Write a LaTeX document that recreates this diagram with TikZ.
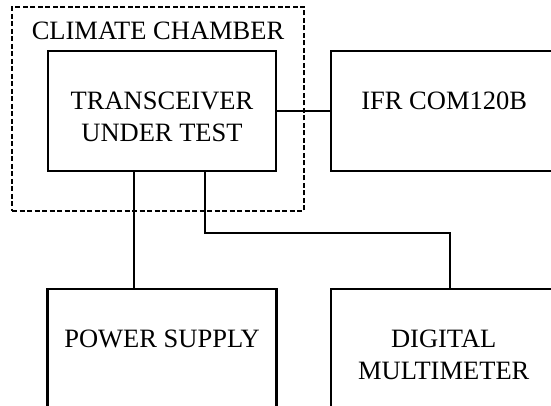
\documentclass[tikz,border=0pt]{standalone}
\usepackage{fontspec}
\setmainfont{Liberation Serif}
\usepackage{tikz}
\usetikzlibrary{positioning}

\begin{document}
\begin{tikzpicture}[
  font=\fontsize{26.5pt}{32pt}\selectfont,
  box/.style={draw, line width=2.2pt, minimum width=228pt, minimum height=120pt},
  txt/.style={align=center, anchor=north, inner sep=0pt, yshift=-42pt},
  wire/.style={line width=2pt},
  chamber/.style={draw, line width=1.5pt, dash pattern=on 5pt off 2.5pt, minimum width=292pt, minimum height=204pt}
]
\useasboundingbox (0,0) rectangle (551pt,406pt);
\clip (0,0) rectangle (551pt,406pt);

% CHAMBER
\node[box, label={[txt]north:{TRANSCEIVER\\UNDER TEST}}] (dut) at (162pt,295pt) {};
\node[chamber, label={[anchor=north, inner sep=0pt, yshift=-15.5pt]north:CLIMATE CHAMBER}] (cc) at (158pt,297pt) {};

% INSTRUMENTS
\node[box, minimum width=226pt, right=53pt of dut, label={[txt]north:IFR COM120B}] (ifr) {};
\node[box, minimum width=229pt, below=116pt of dut, label={[txt]north:POWER SUPPLY}] (psu) {};
\node[box, minimum width=226pt, right=52pt of psu, label={[txt]north:{DIGITAL\\MULTIMETER}}] (dmm) {};

% WIRING
\draw[wire] (dut) -- (ifr);
\draw[wire] ([xshift=-28pt]dut.south) -- ([xshift=-28pt]dut.south |- psu.north);
\draw[wire] ([xshift=43pt]dut.south) -- ++(0,-61pt) -| ([xshift=6pt]dmm.north);

\end{tikzpicture}
\end{document}
